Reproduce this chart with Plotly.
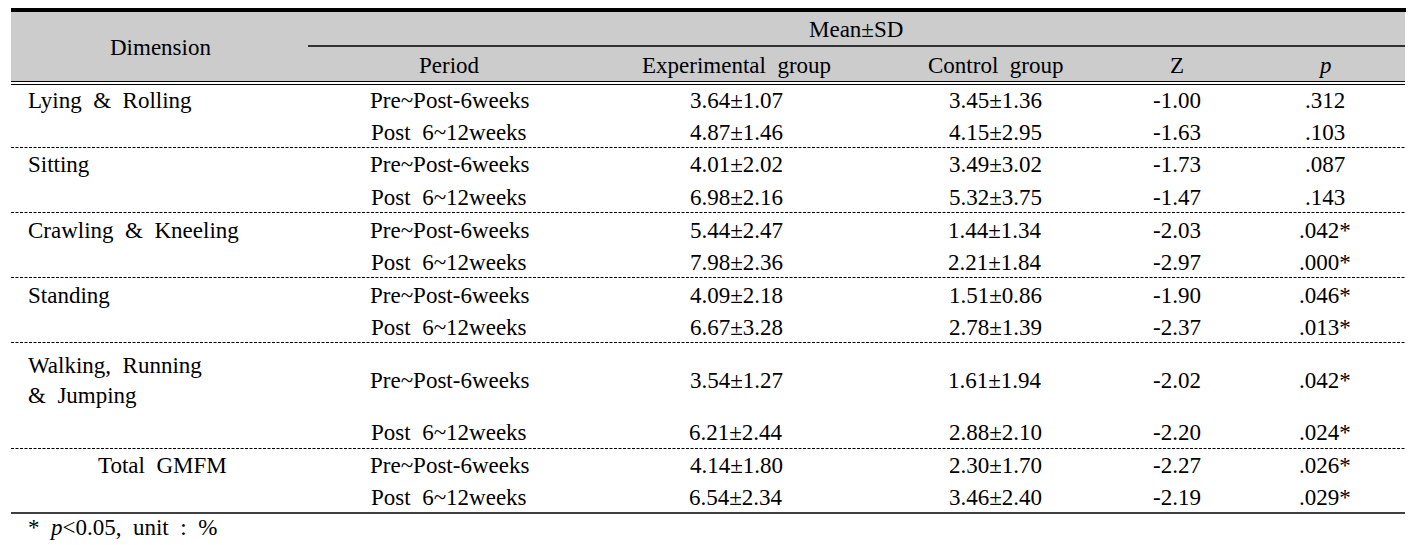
import plotly.graph_objects as go

# ---------------- data ----------------
dimensions = ["Lying\u00a0 &\u00a0 Rolling", "Sitting", "Crawling\u00a0 &\u00a0 Kneeling", "Standing",
              "Walking,\u00a0 Running<br>&\u00a0 Jumping", "Total\u00a0 GMFM"]
periods = ["Pre~Post-6weeks", "Post\u00a0 6~12weeks"]
exp_mean = [3.64, 4.87, 4.01, 6.98, 5.44, 7.98, 4.09, 6.67, 3.54, 6.21, 4.14, 6.54]
exp_sd = [1.07, 1.46, 2.02, 2.16, 2.47, 2.36, 2.18, 3.28, 1.27, 2.44, 1.80, 2.34]
ctrl_mean = [3.45, 4.15, 3.49, 5.32, 1.44, 2.21, 1.51, 2.78, 1.61, 2.88, 2.30, 3.46]
ctrl_sd = [1.36, 2.95, 3.02, 3.75, 1.34, 1.84, 0.86, 1.39, 1.94, 2.10, 1.70, 2.40]
z_vals = [-1.00, -1.63, -1.73, -1.47, -2.03, -2.97, -1.90, -2.37, -2.02, -2.20, -2.27, -2.19]
p_vals = [0.312, 0.103, 0.087, 0.143, 0.042, 0.000, 0.046, 0.013, 0.042, 0.024, 0.026, 0.029]
header_top = "Mean±SD"
header_cols = ["Period", "Experimental\u00a0 group", "Control\u00a0 group", "Z", "<i>p</i>"]
footnote = "*\u00a0 <i>p</i>&lt;0.05,\u00a0 unit\u00a0 :\u00a0 %"

# ---------------- layout constants ----------------
W, H = 1417, 545
FONT = "Liberation Serif"
FS = 23
X0, X1 = 11, 1405
col_x = [449, 736, 995, 1177, 1325]
dim_x = 26
dim_center = 162
row_y = [100, 132, 164, 197, 230, 262, 295, 327, 380, 432, 465, 497]
sections = [(0, 2), (2, 4), (4, 6), (6, 8), (8, 10), (10, 12)]
sep_y = [147.5, 212.5, 277.5, 342.5, 448.5]

def fmt_p(p):
    s = f"{p:.3f}".lstrip("0")
    return s + ("*" if p < 0.05 else "")

ann = []
def add(x, y, t, xanchor="center", align="center"):
    ann.append(dict(x=x, y=y, xref="x", yref="y", text=t, showarrow=False,
                    xanchor=xanchor, yanchor="middle", align=align,
                    font=dict(family=FONT, size=FS, color="black")))

# headers
add(160, 47, "Dimension")
add(856, 29, header_top)
for cx, t in zip(col_x, header_cols):
    add(cx, 65, t)

# body
for i in range(12):
    y = row_y[i]
    add(col_x[0], y, periods[i % 2])
    add(col_x[1], y, f"{exp_mean[i]:.2f}±{exp_sd[i]:.2f}")
    add(col_x[2], y, f"{ctrl_mean[i]:.2f}±{ctrl_sd[i]:.2f}")
    add(col_x[3], y, f"{z_vals[i]:.2f}")
    add(col_x[4], y, fmt_p(p_vals[i]))

for k, (a, b) in enumerate(sections):
    if k == len(sections) - 1:
        add(dim_center, row_y[a], dimensions[k])
    else:
        add(dim_x, row_y[a], dimensions[k], xanchor="left", align="left")

add(dim_x, 527, footnote, xanchor="left", align="left")

shapes = []
shapes.append(dict(type="rect", xref="x", yref="y", x0=X0, x1=X1, y0=12, y1=81,
                   fillcolor="#cccccc", line=dict(width=0), layer="below"))
shapes.append(dict(type="line", xref="x", yref="y", x0=X0, x1=X1 + 1, y0=10, y1=10,
                   line=dict(color="black", width=4)))
shapes.append(dict(type="line", xref="x", yref="y", x0=308, x1=X1, y0=46, y1=46,
                   line=dict(color="black", width=1.3)))
for yy in (81.5, 84.5):
    shapes.append(dict(type="line", xref="x", yref="y", x0=X0, x1=X1, y0=yy, y1=yy,
                       line=dict(color="black", width=1.2)))
for yy in sep_y:
    shapes.append(dict(type="line", xref="x", yref="y", x0=X0, x1=X1, y0=yy, y1=yy,
                       line=dict(color="black", width=1, dash="3px,1.5px")))
shapes.append(dict(type="line", xref="x", yref="y", x0=X0, x1=X1, y0=513, y1=513,
                   line=dict(color="black", width=1.5)))

fig = go.Figure()
fig.add_trace(go.Scatter(x=[0, W], y=[0, H], mode="markers",
                         marker=dict(opacity=0), hoverinfo="skip", showlegend=False))
fig.update_layout(
    width=W, height=H, margin=dict(l=0, r=0, t=0, b=0),
    paper_bgcolor="white", plot_bgcolor="white",
    font=dict(family=FONT, size=FS, color="black"),
    xaxis=dict(range=[0, W], visible=False, fixedrange=True),
    yaxis=dict(range=[H, 0], visible=False, fixedrange=True),
    annotations=ann, shapes=shapes, showlegend=False,
)
fig.write_html("out.html", config={"displayModeBar": False},
               post_script="document.body.style.margin='0';document.body.style.overflow='hidden';")
